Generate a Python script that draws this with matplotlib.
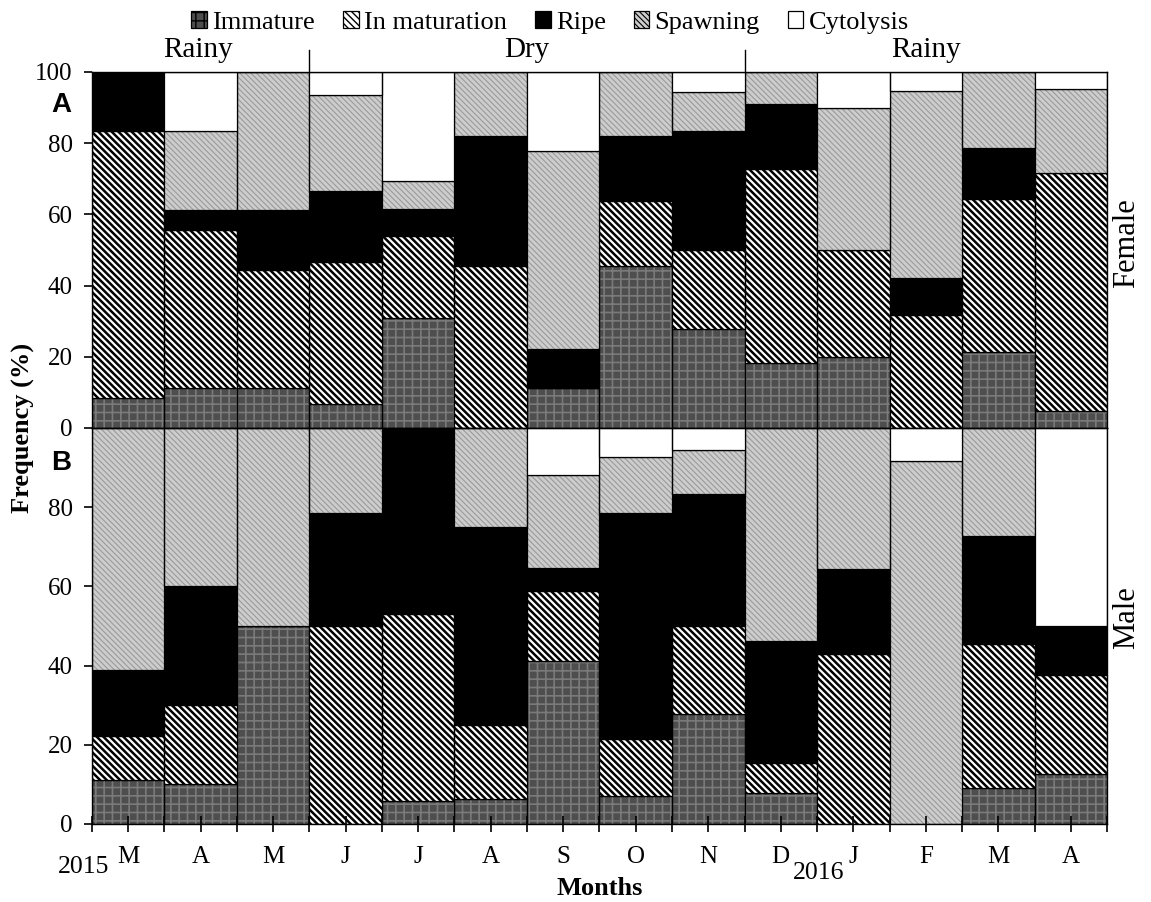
import numpy as np
import matplotlib
matplotlib.use("Agg")
from matplotlib import pyplot as plt
from matplotlib.patches import Patch

plt.rcParams["font.family"] = ["Liberation Serif", "DejaVu Serif"]

months = ["M", "A", "M", "J", "J", "A", "S", "O", "N", "D", "J", "F", "M", "A"]
stages = ["Immature", "In maturation", "Ripe", "Spawning", "Cytolysis"]

# female (panel A), % per stage
f_immature = [8.3, 11.1, 11.1, 6.7, 30.8, 0.0, 11.1, 45.5, 27.8, 18.2, 20.0, 0.0, 21.4, 4.8]
f_maturation = [75.0, 44.4, 33.3, 40.0, 23.1, 45.5, 0.0, 18.2, 22.2, 54.5, 30.0, 31.6, 42.9, 66.7]
f_ripe = [16.7, 5.6, 16.7, 20.0, 7.7, 36.4, 11.1, 18.2, 33.3, 18.2, 0.0, 10.5, 14.3, 0.0]
f_spawning = [0.0, 22.2, 38.9, 26.7, 7.7, 18.2, 55.6, 18.2, 11.1, 9.1, 40.0, 52.6, 21.4, 23.8]
f_cytolysis = [0.0, 16.7, 0.0, 6.7, 30.8, 0.0, 22.2, 0.0, 5.6, 0.0, 10.0, 5.3, 0.0, 4.8]

# male (panel B)
m_immature = [11.1, 10.0, 50.0, 0.0, 5.9, 6.25, 41.2, 7.1, 27.8, 7.7, 0.0, 0.0, 9.1, 12.5]
m_maturation = [11.1, 20.0, 0.0, 50.0, 47.1, 18.75, 17.6, 14.3, 22.2, 7.7, 42.9, 0.0, 36.4, 25.0]
m_ripe = [16.7, 30.0, 0.0, 28.6, 47.0, 50.0, 5.9, 57.1, 33.3, 30.8, 21.4, 0.0, 27.3, 12.5]
m_spawning = [61.1, 40.0, 50.0, 21.4, 0.0, 25.0, 23.5, 14.3, 11.1, 53.8, 35.7, 91.7, 27.2, 0.0]
m_cytolysis = [0.0, 0.0, 0.0, 0.0, 0.0, 0.0, 11.8, 7.2, 5.6, 0.0, 0.0, 8.3, 0.0, 50.0]

female = [f_immature, f_maturation, f_ripe, f_spawning, f_cytolysis]
male = [m_immature, m_maturation, m_ripe, m_spawning, m_cytolysis]

# face colour, hatch, hatch colour, hatch width
styles = [
    ("#4e4e4e", "++", "#7a7a7a", 1.2),
    ("white", "\\" * 5, "black", 1.8),
    ("black", None, "black", 1.0),
    ("#cdcdcd", "\\" * 6, "#9a9a9a", 0.8),
    ("white", None, "black", 1.0),
]

plt.rcParams["hatch.linewidth"] = 1.8


def set_hw(patch, w):
    if hasattr(patch, "set_hatch_linewidth"):
        patch.set_hatch_linewidth(w)


fig = plt.figure(figsize=(11.51, 9.02), dpi=100)
axA = fig.add_axes([0.0799, 0.5255, 0.8819, 0.3947])
axB = fig.add_axes([0.0799, 0.0865, 0.8819, 0.4390])

x = np.arange(len(months))


def stacked(ax, data):
    bottom = np.zeros(len(months))
    for vals, (fc, hatch, hc, hw) in zip(data, styles):
        vals = np.array(vals)
        bars = ax.bar(x, vals, width=1.0, bottom=bottom, color=fc,
                      edgecolor=hc, hatch=hatch, linewidth=0)
        for p in bars:
            set_hw(p, hw)
        ax.bar(x, vals, width=1.0, bottom=bottom, fill=False,
               edgecolor="black", linewidth=0.9)
        bottom += vals


stacked(axA, female)
stacked(axB, male)

for ax in (axA, axB):
    ax.set_xlim(-0.5, len(months) - 0.5)
    ax.set_ylim(0, 100)
    for s in ax.spines.values():
        s.set_linewidth(1.0)
    ax.tick_params(axis="y", direction="out", length=6, width=1.2,
                   labelsize=18, pad=8)

axA.set_yticks([0, 20, 40, 60, 80, 100])
axA.set_xticks([])
axB.set_yticks([0, 20, 40, 60, 80])
axB.set_xticks(x)
axB.set_xticklabels(months)
axB.set_xticks(np.arange(-0.5, len(months)), minor=True)
axB.tick_params(axis="x", which="major", direction="inout", length=11,
                width=1.2, labelsize=18, pad=10)
axB.tick_params(axis="x", which="minor", direction="inout", length=12,
                width=1.2)

# seasons
for xd in (2.5, 8.5):
    axA.plot([xd, xd], [100, 106.3], color="black", lw=1.0, clip_on=False)
axA.text(0.96, 106.2, "Rainy", ha="center", va="center", fontsize=21)
axA.text(5.5, 106.2, "Dry", ha="center", va="center", fontsize=21)
axA.text(11.0, 106.2, "Rainy", ha="center", va="center", fontsize=21)

axA.text(1.005, 0.52, "Female", transform=axA.transAxes, rotation=90,
         ha="left", va="center", fontsize=22)
axB.text(1.005, 0.52, "Male", transform=axB.transAxes, rotation=90,
         ha="left", va="center", fontsize=22)

axA.text(-0.030, 0.906, "A", transform=axA.transAxes, ha="center",
         va="center", fontsize=20, fontweight="bold",
         family="Liberation Sans")
axB.text(-0.030, 0.912, "B", transform=axB.transAxes, ha="center",
         va="center", fontsize=20, fontweight="bold",
         family="Liberation Sans")

fig.text(0.020, 0.5255, "Frequency (%)", rotation=90, ha="center",
         va="center", fontsize=19, fontweight="bold")
fig.text(0.521, 0.015, "Months", ha="center", va="center", fontsize=19,
         fontweight="bold")
fig.text(0.073, 0.039, "2015", ha="center", va="center", fontsize=18.5)
fig.text(0.7115, 0.032, "2016", ha="center", va="center", fontsize=18.5)

handles = []
for fc, hatch, hc, hw in styles:
    h = Patch(facecolor=fc, edgecolor="black", hatch=hatch, linewidth=0.9)
    handles.append(h)
leg = fig.legend(handles, stages, loc="center", bbox_to_anchor=(0.478, 0.975),
                 ncol=5, frameon=False, fontsize=19, handlelength=0.6,
                 handleheight=0.6, handletextpad=0.2, columnspacing=1.05,
                 borderpad=0.1)
for p, (fc, hatch, hc, hw) in zip(leg.get_patches(), styles):
    set_hw(p, min(hw, 1.0))

fig.savefig("out.png", dpi=100)
